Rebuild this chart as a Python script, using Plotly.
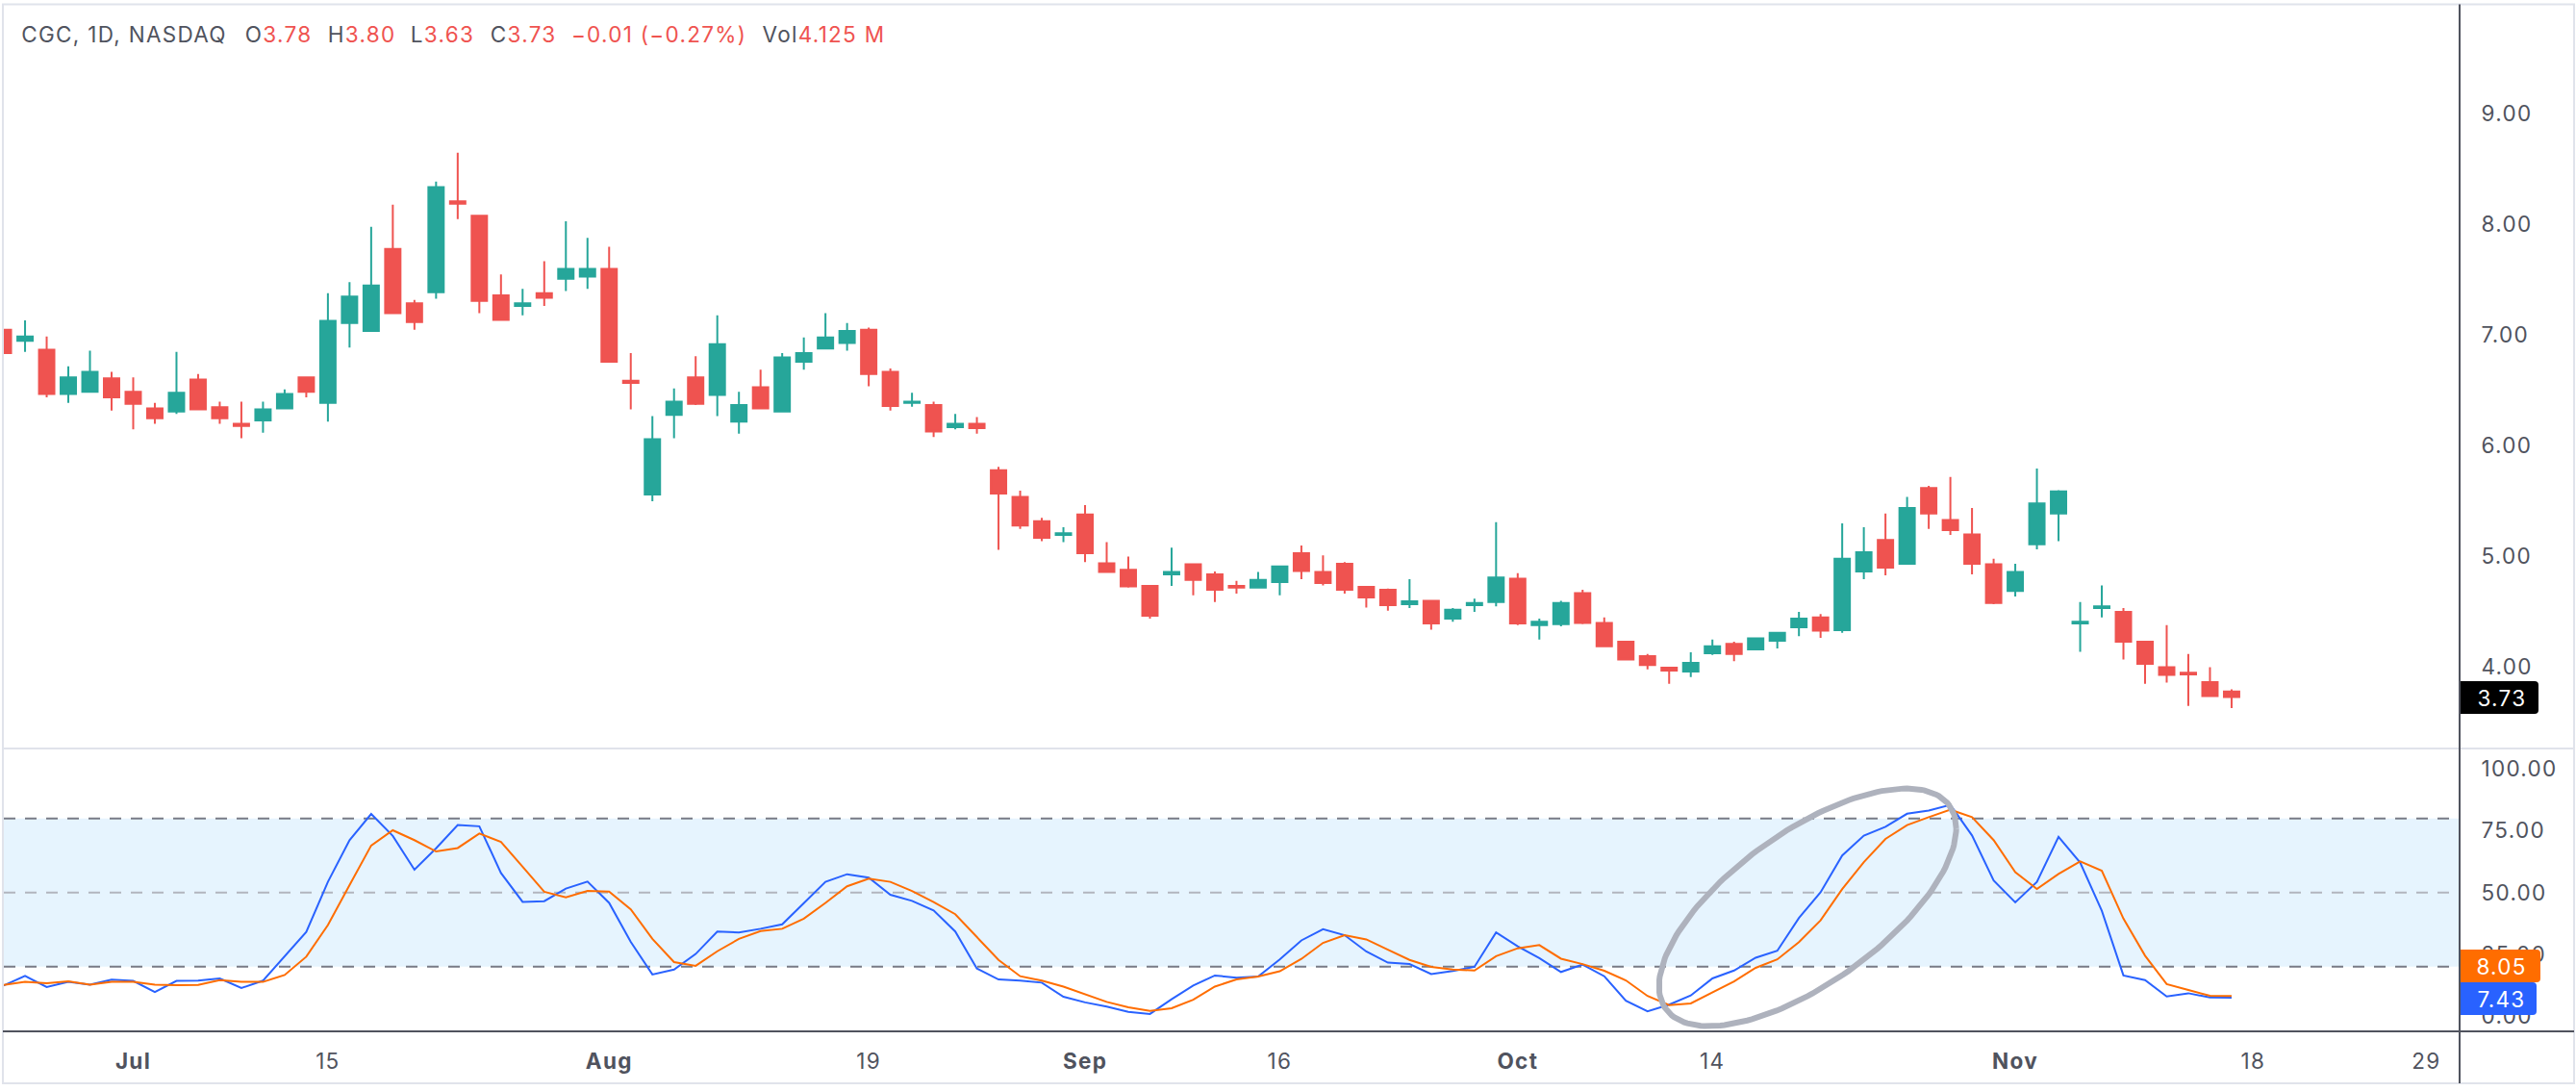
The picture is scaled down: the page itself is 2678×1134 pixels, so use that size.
import numpy as np
import plotly.graph_objects as go

W, H = 2678, 1134
ML, MR, MT, MB = 4, 121, 5, 62

dates = [
 "Jun 21","Jun 24","Jun 25","Jun 26","Jun 27","Jun 28",
 "Jul 1","Jul 2","Jul 3","Jul 5","Jul 8","Jul 9","Jul 10","Jul 11","Jul 12","Jul 15","Jul 16","Jul 17","Jul 18","Jul 19",
 "Jul 22","Jul 23","Jul 24","Jul 25","Jul 26","Jul 29","Jul 30","Jul 31",
 "Aug 1","Aug 2","Aug 5","Aug 6","Aug 7","Aug 8","Aug 9","Aug 12","Aug 13","Aug 14","Aug 15","Aug 16",
 "Aug 19","Aug 20","Aug 21","Aug 22","Aug 23","Aug 26","Aug 27","Aug 28","Aug 29","Aug 30",
 "Sep 3","Sep 4","Sep 5","Sep 6","Sep 9","Sep 10","Sep 11","Sep 12","Sep 13","Sep 16","Sep 17","Sep 18","Sep 19","Sep 20",
 "Sep 23","Sep 24","Sep 25","Sep 26","Sep 27","Sep 30",
 "Oct 1","Oct 2","Oct 3","Oct 4","Oct 7","Oct 8","Oct 9","Oct 10","Oct 11","Oct 14","Oct 15","Oct 16","Oct 17","Oct 18",
 "Oct 21","Oct 22","Oct 23","Oct 24","Oct 25","Oct 28","Oct 29","Oct 30","Oct 31",
 "Nov 1","Nov 4","Nov 5","Nov 6","Nov 7","Nov 8","Nov 11","Nov 12","Nov 13","Nov 14","Nov 15",
 "Nov 18","Nov 19","Nov 20","Nov 21","Nov 22","Nov 25","Nov 26","Nov 27","Nov 29",
]
tick_dates = ["Jul 1","Jul 15","Aug 1","Aug 19","Sep 3","Sep 16","Oct 1","Oct 14","Nov 1","Nov 18","Nov 29"]
tick_labels = ["<b>Jul</b>","15","<b>Aug</b>","19","<b>Sep</b>","16","<b>Oct</b>","14","<b>Nov</b>","18","29"]

opens = [7.05,6.95,6.87,6.47,6.49,6.61,6.49,6.34,6.31,6.60,6.35,6.20,6.23,6.34,6.62,6.39,7.11,7.04,7.78,7.29,
 7.39,8.21,8.08,7.36,7.265,7.38,7.51,7.53,7.60,6.59,5.56,6.28,6.62,6.46,6.22,6.53,6.31,6.76,6.88,6.93,
 7.05,6.67,6.39,6.37,6.17,6.20,5.78,5.54,5.32,5.195,5.38,4.94,4.88,4.735,4.84,4.93,4.84,4.735,4.72,4.77,
 5.03,4.86,4.935,4.726,4.70,4.57,4.60,4.44,4.56,4.59,4.80,4.38,4.39,4.67,4.40,4.23,4.10,3.995,3.96,4.125,
 4.21,4.16,4.24,4.36,4.45,4.335,4.865,5.15,4.935,5.62,5.33,5.20,4.93,4.69,5.11,5.39,4.395,4.535,4.50,4.23,
 4.00,3.95,3.865,3.78]
highs = [7.05,7.135,6.99,6.72,6.86,6.67,6.62,6.39,6.85,6.65,6.40,6.40,6.40,6.51,6.62,7.38,7.48,7.98,8.18,7.32,
 8.39,8.65,8.08,7.55,7.42,7.67,8.03,7.88,7.80,6.84,6.27,6.52,6.81,7.18,6.49,6.69,6.84,6.98,7.20,7.11,
 7.07,6.70,6.48,6.40,6.29,6.26,5.81,5.595,5.35,5.265,5.465,5.13,5.00,4.74,5.08,4.94,4.865,4.78,4.86,4.92,
 5.10,5.01,4.95,4.735,4.71,4.795,4.60,4.535,4.62,5.31,4.85,4.44,4.60,4.70,4.45,4.23,4.12,4.00,4.135,4.25,
 4.23,4.26,4.32,4.50,4.48,5.30,5.265,5.39,5.54,5.64,5.72,5.44,4.98,4.935,5.795,5.60,4.59,4.74,4.535,4.24,
 4.38,4.12,4.00,3.80]
lows = [6.84,6.85,6.44,6.39,6.49,6.32,6.15,6.20,6.29,6.33,6.20,6.07,6.12,6.33,6.44,6.22,6.89,7.04,7.195,7.05,
 7.33,8.05,7.20,7.14,7.18,7.265,7.40,7.42,6.76,6.33,5.50,6.07,6.37,6.27,6.11,6.33,6.31,6.69,6.88,6.86,
 6.54,6.32,6.355,6.08,6.15,6.11,5.06,5.25,5.14,5.13,4.95,4.86,4.72,4.44,4.735,4.65,4.59,4.665,4.71,4.65,
 4.795,4.74,4.665,4.54,4.51,4.535,4.34,4.41,4.50,4.55,4.38,4.25,4.37,4.39,4.19,4.065,3.98,3.85,3.91,4.11,
 4.055,4.16,4.17,4.28,4.265,4.31,4.795,4.83,4.93,5.25,5.195,4.84,4.57,4.64,5.065,5.14,4.14,4.45,4.07,3.85,
 3.86,3.65,3.73,3.63]
closes = [6.84,6.99,6.47,6.62,6.67,6.44,6.38,6.25,6.48,6.33,6.25,6.18,6.33,6.47,6.49,7.13,7.35,7.45,7.20,7.12,
 8.34,8.19,7.31,7.14,7.29,7.34,7.60,7.60,6.76,6.57,6.06,6.40,6.38,6.92,6.37,6.34,6.80,6.84,6.98,7.04,
 6.65,6.36,6.40,6.13,6.20,6.16,5.57,5.28,5.17,5.21,5.03,4.86,4.73,4.465,4.86,4.79,4.70,4.72,4.79,4.91,
 4.87,4.76,4.70,4.63,4.56,4.595,4.395,4.52,4.58,4.81,4.395,4.41,4.58,4.40,4.19,4.07,4.02,3.97,4.04,4.19,
 4.12,4.26,4.31,4.44,4.33,4.98,5.04,4.90,5.44,5.39,5.24,4.935,4.58,4.86,5.48,5.59,4.41,4.55,4.23,4.03,
 3.93,3.935,3.74,3.73]

k_values = [12.3,16.2,11.7,13.8,12.7,14.7,14.2,9.7,14.2,14.3,15.2,11.3,14.3,24.2,34.0,54.3,71.2,81.8,72.9,59.2,
 67.9,77.3,76.8,57.9,46.2,46.5,51.6,54.4,45.8,30.0,16.8,18.8,25.1,34.2,33.8,35.3,37.1,45.7,54.3,57.4,
 56.0,49.1,46.6,42.7,34.2,19.2,14.8,14.3,13.5,7.8,5.5,3.8,1.7,0.8,6.8,12.3,16.4,15.5,16.0,22.9,
 30.6,35.1,32.7,26.1,21.6,21.0,17.0,18.2,19.9,33.8,28.2,23.4,17.8,20.8,16.1,6.2,1.9,4.6,8.3,15.2,
 18.4,23.6,26.4,39.7,50.1,65.0,73.0,76.6,81.9,83.2,85.5,73.1,54.9,46.0,54.3,72.5,62.1,42.6,16.4,14.5,
 7.9,9.2,7.5,7.43]
d_values = [12.5,13.8,13.2,14.0,12.7,13.8,13.8,12.7,12.5,12.6,14.5,13.8,13.8,16.6,24.0,36.8,53.0,69.0,75.2,71.2,
 66.6,68.0,73.9,70.5,60.4,50.3,48.0,50.6,50.4,43.2,31.2,21.8,20.3,26.2,31.2,34.4,35.3,39.4,45.8,52.5,
 55.6,54.3,50.6,46.1,41.2,31.9,22.7,16.1,14.3,11.9,8.8,5.7,3.5,2.1,3.1,6.6,11.9,14.8,16.0,18.1,
 23.1,29.6,32.7,31.0,26.8,22.7,19.9,18.8,18.4,24.2,27.4,28.7,23.2,21.0,18.3,14.4,8.1,4.4,5.1,9.5,
 14.0,19.5,22.9,29.9,38.7,51.4,62.3,71.7,77.3,80.5,83.5,80.5,71.2,58.2,51.4,57.5,62.6,58.8,39.4,24.4,
 12.9,10.5,8.2,8.05]

price_ticks = [4, 5, 6, 7, 8, 9]
stoch_ticks = [0, 25, 50, 75, 100]
band_levels = [20, 50, 80]
header_parts = ["CGC, 1D, NASDAQ",
                "O<span style='color:#ef5350'>3.78</span>",
                "H<span style='color:#ef5350'>3.80</span>",
                "L<span style='color:#ef5350'>3.63</span>",
                "C<span style='color:#ef5350'>3.73</span>",
                "<span style='color:#ef5350'>\u22120.01 (\u22120.27%)</span>",
                "Vol<span style='color:#ef5350'>4.125 M</span>"]
header_cx = [129, 289, 375.5, 460, 544, 684.5, 856]

UP, DOWN = "#26a69a", "#ef5350"
TEXT = "#50535e"
FONT = "Inter"
FS = 22.5

pos = list(range(len(opens)))


def px(x):
    return (x - ML) / (W - ML - MR)


def py(y):
    return 1 - (y - MT) / (H - MT - MB)


def tag_path(x0, x1, y0, y1, r=4):
    return (f"M {px(x0)} {py(y0)} L {px(x1 - r)} {py(y0)} Q {px(x1)} {py(y0)} {px(x1)} {py(y0 + r)} "
            f"L {px(x1)} {py(y1 - r)} Q {px(x1)} {py(y1)} {px(x1 - r)} {py(y1)} L {px(x0)} {py(y1)} Z")


fig = go.Figure()
fig.add_trace(go.Candlestick(
    x=pos, open=opens, high=highs, low=lows, close=closes, text=dates[:len(opens)],
    whiskerwidth=0, yaxis="y",
    increasing=dict(line=dict(color=UP, width=2), fillcolor=UP),
    decreasing=dict(line=dict(color=DOWN, width=2), fillcolor=DOWN),
))
fig.add_trace(go.Scatter(x=pos, y=k_values, mode="lines", yaxis="y2",
                         line=dict(color="#2962ff", width=2), name="%K"))
fig.add_trace(go.Scatter(x=pos, y=d_values, mode="lines", yaxis="y2",
                         line=dict(color="#ff6d00", width=2), name="%D"))

# highlight ring around the crossover, in axis units
t = np.linspace(0, 2 * np.pi, 181)
phi = np.arccos(0.664)
fig.add_trace(go.Scatter(x=83.4 + 6.87 * np.cos(t), y=44.0 + 48.1 * np.cos(t - phi),
                         mode="lines", yaxis="y2", hoverinfo="skip",
                         line=dict(color="#aeb2bd", width=6)))

shapes = [
    dict(type="rect", xref="paper", yref="y2", x0=0, x1=1, y0=band_levels[0], y1=band_levels[2],
         fillcolor="#e6f4fe", line_width=0, layer="below"),
]
for lv, col in zip(band_levels, ["#787b86", "#b2b5be", "#787b86"]):
    shapes.append(dict(type="line", xref="paper", yref="y2", x0=0, x1=1, y0=lv, y1=lv, layer="below",
                       line=dict(color=col, width=2, dash="12px,10px")))
# frame, pane separator, axis lines
shapes += [
    dict(type="rect", xref="paper", yref="paper", x0=px(3), x1=px(2676), y0=py(4.5), y1=py(1126),
         line=dict(color="#e0e3eb", width=2)),
    dict(type="line", xref="paper", yref="paper", x0=px(3), x1=px(2676), y0=py(778), y1=py(778),
         line=dict(color="#e0e3eb", width=2)),
    dict(type="line", xref="paper", yref="paper", x0=px(2557), x1=px(2557), y0=py(4.5), y1=py(1126),
         line=dict(color=TEXT, width=2)),
    dict(type="line", xref="paper", yref="paper", x0=px(3), x1=px(2676), y0=py(1072), y1=py(1072),
         line=dict(color=TEXT, width=2)),
]
# last-value tags
tags = [("3.73", "#000000", 2639, 708, 742), ("8.05", "#ff6d00", 2641, 987, 1021), ("7.43", "#2962ff", 2637, 1021, 1055)]
annotations = []
for txt, col, xr, y0, y1 in tags:
    shapes.append(dict(type="path", xref="paper", yref="paper", path=tag_path(2558, xr, y0, y1),
                       fillcolor=col, line_width=0))
    annotations.append(dict(xref="paper", yref="paper", x=px(2600.5), y=py((y0 + y1) / 2), text=txt,
                            showarrow=False, xanchor="center", yanchor="middle",
                            font=dict(family=FONT, size=FS, color="#ffffff")))
for part, hx in zip(header_parts, header_cx):
    annotations.append(dict(xref="paper", yref="paper", x=px(hx), y=py(35), text=part, showarrow=False,
                            xanchor="center", yanchor="middle",
                            font=dict(family=FONT, size=FS, color=TEXT)))

fig.update_layout(
    width=W, height=H, margin=dict(l=ML, r=MR, t=MT, b=MB), autosize=False,
    paper_bgcolor="#ffffff", plot_bgcolor="rgba(0,0,0,0)", showlegend=False,
    boxgap=0.29, boxgroupgap=0,
    shapes=shapes, annotations=annotations,
    font=dict(family=FONT, size=FS, color=TEXT),
    xaxis=dict(range=[0.02, 113.54], domain=[0, 1], anchor="y2", rangeslider=dict(visible=False),
               tickmode="array", tickvals=[dates.index(d) for d in tick_dates], ticktext=tick_labels,
               showgrid=False, zeroline=False, showline=False,
               ticks="outside", ticklen=11, tickcolor="rgba(0,0,0,0)",
               tickfont=dict(family=FONT, size=FS, color=TEXT)),
    yaxis=dict(domain=[py(778), 1], range=[3.265, 9.987], side="right", anchor="x",
               tickmode="array", tickvals=price_ticks, tickformat=".2f",
               showgrid=False, zeroline=False, showline=False,
               ticks="outside", ticklen=17, tickcolor="rgba(0,0,0,0)",
               tickfont=dict(family=FONT, size=FS, color=TEXT)),
    yaxis2=dict(domain=[0, py(778)], range=[-6.23, 108.3], side="right", anchor="x",
                tickmode="array", tickvals=stoch_ticks, tickformat=".2f",
                showgrid=False, zeroline=False, showline=False,
                ticks="outside", ticklen=17, tickcolor="rgba(0,0,0,0)",
                tickfont=dict(family=FONT, size=FS, color=TEXT)),
)

css = ("document.body.style.margin='0';"
       "var s=document.createElement('style');"
       "s.textContent='svg text{letter-spacing:1.3px}';"
       "document.head.appendChild(s);")
fig.write_html("out.html", post_script=css, config={"displayModeBar": False})
